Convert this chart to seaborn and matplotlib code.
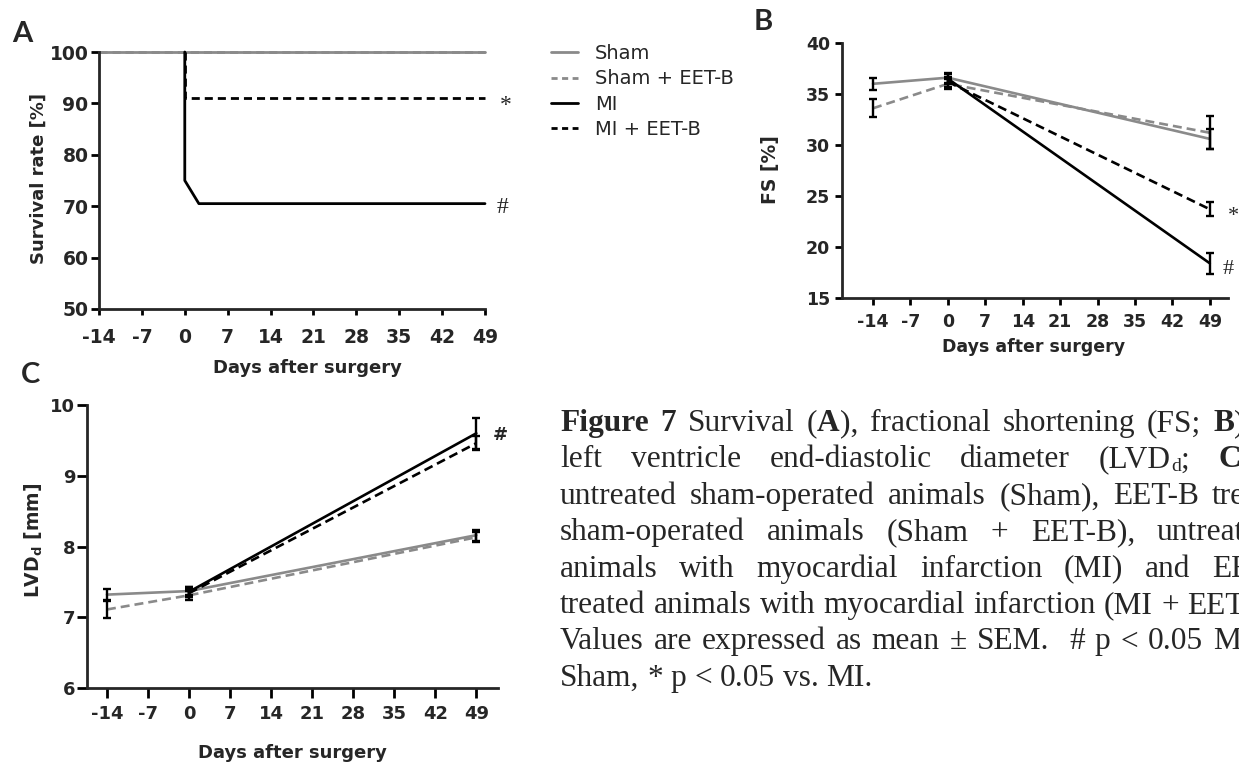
import numpy as np
import pandas as pd
import matplotlib
matplotlib.use("Agg")
import matplotlib.pyplot as plt
from matplotlib.lines import Line2D
import seaborn as sns

# ---------------- data ----------------
groups = ["Sham", "Sham + EET-B", "MI", "MI + EET-B"]
x_ticks = [-14, -7, 0, 7, 14, 21, 28, 35, 42, 49]

# Panel A: survival curves (path points)
surv_days_sham = [-14, 49]
surv_sham = [100, 100]
surv_days_sham_eet = [-14, 49]
surv_sham_eet = [100, 100]
surv_days_mi = [0, 0, 2.3, 49]
surv_mi = [100, 75, 70.5, 70.5]
surv_days_mi_eet = [0, 0, 49]
surv_mi_eet = [100, 91, 91]

# Panel B: fractional shortening (mean, SEM)
days_sham = [-14, 0, 49]
days_mi = [0, 49]
fs_sham = [36.0, 36.6, 30.6]
fs_sham_sem = [0.6, 0.5, 1.0]
fs_sham_eet = [33.6, 36.0, 31.2]
fs_sham_eet_sem = [0.9, 0.5, 1.6]
fs_mi = [36.5, 18.4]
fs_mi_sem = [0.5, 1.0]
fs_mi_eet = [36.2, 23.7]
fs_mi_eet_sem = [0.5, 0.7]

# Panel C: LVDd (mean, SEM)
lvd_sham = [7.32, 7.37, 8.16]
lvd_sham_sem = [0.08, 0.06, 0.08]
lvd_sham_eet = [7.11, 7.31, 8.13]
lvd_sham_eet_sem = [0.12, 0.06, 0.07]
lvd_mi = [7.36, 9.60]
lvd_mi_sem = [0.07, 0.22]
lvd_mi_eet = [7.34, 9.46]
lvd_mi_eet_sem = [0.06, 0.10]

# ---------------- style ----------------
sns.set_style("ticks")
plt.rcParams["font.family"] = ["DejaVu Sans"]
plt.rcParams["mathtext.default"] = "regular"
plt.rcParams["axes.unicode_minus"] = False

GRAY = "#8a8a8a"
palette = {"Sham": GRAY, "Sham + EET-B": GRAY, "MI": "black", "MI + EET-B": "black"}
dashesA = {"Sham": "", "Sham + EET-B": (2.9, 1.8), "MI": "", "MI + EET-B": (2.9, 1.8)}
dashesBC = {"Sham": "", "Sham + EET-B": (3.4, 1.9), "MI": "", "MI + EET-B": (3.4, 1.9)}

W, H = 1239, 767
fig = plt.figure(figsize=(W / 100, H / 100), dpi=100)


def px_axes(left, top, right, bottom):
    return fig.add_axes([left / W, 1 - bottom / H, (right - left) / W, (bottom - top) / H])


def long_df(pairs):
    rows = []
    for g, (xs, ys) in zip(groups, pairs):
        for i, (x, y) in enumerate(zip(xs, ys)):
            rows.append({"day": x, "value": y, "group": g, "order": i})
    return pd.DataFrame(rows)


def style_axes(ax, fs, xlen, xpad, ylen, ypad):
    sns.despine(ax=ax)
    for s in ("left", "bottom"):
        ax.spines[s].set_linewidth(2)
    ax.tick_params(axis="x", width=2, length=xlen, pad=xpad, labelsize=fs, color="black")
    ax.tick_params(axis="y", width=2, length=ylen, pad=ypad, labelsize=fs, color="black")
    for lab in ax.get_xticklabels() + ax.get_yticklabels():
        lab.set_fontweight("bold")


# ---------------- Panel A ----------------
axA = px_axes(99, 52, 485, 309)
dfA = long_df([(surv_days_sham, surv_sham), (surv_days_sham_eet, surv_sham_eet),
               (surv_days_mi, surv_mi), (surv_days_mi_eet, surv_mi_eet)])
sns.lineplot(data=dfA, x="day", y="value", hue="group", style="group",
             hue_order=groups, style_order=groups, palette=palette, dashes=dashesA,
             estimator=None, sort=False, linewidth=2, legend=False, ax=axA, clip_on=False)
axA.set_xlim(-14, 49)
axA.set_ylim(50, 100)
axA.set_xticks(x_ticks)
axA.set_yticks([50, 60, 70, 80, 90, 100])
axA.set_xlabel("Days after surgery", fontsize=13, fontweight="bold")
axA.set_ylabel("Survival rate [%]", fontsize=13, fontweight="bold")
style_axes(axA, 13.5, 4.5, 9, 6, 1.5)
axA.xaxis.set_label_coords(0.539, -0.23)
axA.xaxis.label.set_va("center")
axA.yaxis.set_label_coords(-0.155, 0.506)
axA.yaxis.label.set_va("center")
axA.annotate("*", xy=(49, surv_mi_eet[-1]), xytext=(10.8, -9.4), textcoords="offset points",
             fontsize=17, family="Liberation Serif", ha="left", va="baseline")
axA.annotate("#", xy=(49, surv_mi[-1]), xytext=(8.6, -6.8), textcoords="offset points",
             fontsize=17, family="Liberation Serif", ha="left", va="baseline")

# legend
handles = []
for g in groups:
    h = Line2D([], [], color=palette[g], lw=2)
    if "EET" in g:
        h.set_dashes((2.2, 1.6))
    handles.append(h)
fig.legend(handles, groups, loc="upper left", bbox_to_anchor=(551 / W, 1 - 44 / H),
           bbox_transform=fig.transFigure, frameon=False, fontsize=14,
           handlelength=1.4, handletextpad=0.85, labelspacing=0.33,
           borderpad=0, borderaxespad=0)


# ---------------- Panels B, C ----------------
def mean_panel(ax, series, sems):
    dfx = long_df(series)
    sns.lineplot(data=dfx, x="day", y="value", hue="group", style="group",
                 hue_order=groups, style_order=groups, palette=palette, dashes=dashesBC,
                 estimator=None, sort=False, linewidth=1.9, legend=False, ax=ax)
    for (xs, ys), e in zip(series, sems):
        ax.errorbar(xs, ys, yerr=e, fmt="none", ecolor="black", elinewidth=1.7,
                    capsize=3, capthick=1.7, zorder=5, clip_on=False)


axB = px_axes(842, 43, 1228, 298)
mean_panel(axB, [(days_sham, fs_sham), (days_sham, fs_sham_eet),
                 (days_mi, fs_mi), (days_mi, fs_mi_eet)],
           [fs_sham_sem, fs_sham_eet_sem, fs_mi_sem, fs_mi_eet_sem])
axB.set_xlim(-19.8, 52.4)
axB.set_ylim(15, 40)
axB.set_xticks(x_ticks)
axB.set_yticks([15, 20, 25, 30, 35, 40])
axB.set_xlabel("Days after surgery", fontsize=12.5, fontweight="bold")
axB.set_ylabel("FS [%]", fontsize=13.5, fontweight="bold")
style_axes(axB, 12.5, 5, 5.5, 5, 3.5)
axB.xaxis.set_label_coords(0.497, -0.192)
axB.xaxis.label.set_va("center")
axB.yaxis.set_label_coords(-0.184, 0.502)
axB.yaxis.label.set_va("center")
axB.annotate("*", xy=(49, fs_mi_eet[-1]), xytext=(13.2, -8.6), textcoords="offset points",
             fontsize=16, family="Liberation Serif", ha="left", va="baseline")
axB.annotate("#", xy=(49, fs_mi[-1]), xytext=(9.4, -7.6), textcoords="offset points",
             fontsize=16, family="Liberation Serif", ha="left", va="baseline")

axC = px_axes(87, 405, 498, 688)
mean_panel(axC, [(days_sham, lvd_sham), (days_sham, lvd_sham_eet),
                 (days_mi, lvd_mi), (days_mi, lvd_mi_eet)],
           [lvd_sham_sem, lvd_sham_eet_sem, lvd_mi_sem, lvd_mi_eet_sem])
axC.set_xlim(-17.4, 52.7)
axC.set_ylim(6, 10)
axC.set_xticks(x_ticks)
axC.set_yticks([6, 7, 8, 9, 10])
axC.set_xlabel("Days after surgery", fontsize=13, fontweight="bold")
axC.set_ylabel(r"LVD$_{d}$ [mm]", fontsize=13.5, fontweight="bold")
style_axes(axC, 13, 7, 5, 7, 1.5)
axC.xaxis.set_label_coords(0.499, -0.23)
axC.xaxis.label.set_va("center")
axC.yaxis.set_label_coords(-0.129, 0.523)
axC.yaxis.label.set_va("center")
axC.annotate("#", xy=(49, lvd_mi[-1]), xytext=(11.5, -5), textcoords="offset points",
             fontsize=13, fontweight="bold", ha="left", va="baseline")

# ---------------- panel letters ----------------
for letter, x, yb in (("A", 22, 42), ("B", 763, 30), ("C", 30, 383)):
    fig.text(x / W, 1 - yb / H, letter, fontsize=21, fontweight="bold",
             family=["Lato", "DejaVu Sans"], ha="center", va="baseline")

# ---------------- caption (justified lines, clipped at the right edge) ----------------
CAP = 22.6
renderer = fig.canvas.get_renderer()


def w_(*segs):
    return list(segs)


N = lambda s: (s, False, False)
Bd = lambda s: (s, True, False)
Sb = lambda s: (s, False, True)

caption_lines = [
    ([w_(Bd("Figure")), w_(Bd("7")), w_(N("Survival")), w_(N("("), Bd("A"), N("),")),
      w_(N("fractional")), w_(N("shortening")), w_(N("(FS;")), w_(Bd("B"), N(")"))], 7, 1213),
    ([w_(N("left")), w_(N("ventricle")), w_(N("end-diastolic")), w_(N("diameter")),
      w_(N("(LVD"), Sb("d"), N(";")), w_(Bd("C"), N(")"))], 5, 1218),
    ([w_(N("untreated")), w_(N("sham-operated")), w_(N("animals")), w_(N("(Sham),")),
      w_(N("EET-B")), w_(N("treated"))], 5, 1212),
    ([w_(N("sham-operated")), w_(N("animals")), w_(N("(Sham")), w_(N("+")),
      w_(N("EET-B),")), w_(N("untreated"))], 5, 1157),
    ([w_(N("animals")), w_(N("with")), w_(N("myocardial")), w_(N("infarction")),
      w_(N("(MI)")), w_(N("and")), w_(N("EET-B"))], 6, 1212),
    ([w_(N("treated")), w_(N("animals")), w_(N("with")), w_(N("myocardial")),
      w_(N("infarction")), w_(N("(MI")), w_(N("+")), w_(N("EET-B)."))], 7, 1187),
    ([w_(N("Values")), w_(N("are")), w_(N("expressed")), w_(N("as")), w_(N("mean")),
      w_(N("±")), w_(N("SEM.")), None, w_(N("#")), w_(N("p")), w_(N("<")), w_(N("0.05")),
      w_(N("MI"))], 12, 1213),
    ([w_(N("Sham,")), w_(N("*")), w_(N("p")), w_(N("<")), w_(N("0.05")), w_(N("vs.")),
      w_(N("MI."))], None, None),
]

x0 = 560
base0, step = 431, 36.4
space_px = 0.25 * CAP * 100 / 72

for li, (words, k, xk) in enumerate(caption_lines):
    yb = base0 + li * step
    built = []
    for wd in words:
        if wd is None:
            built.append(None)
            continue
        arts = []
        for txt, bold, sub in wd:
            t = fig.text(0, 0, txt, fontsize=CAP * (0.62 if sub else 1.0),
                         fontweight="bold" if bold else "normal",
                         family="Liberation Serif", ha="left", va="baseline")
            arts.append((t, sub, t.get_window_extent(renderer).width))
        built.append(arts)
    widths = [0 if b is None else sum(a[2] for a in b) for b in built]
    if k is None:
        gap = space_px
    else:
        gap = (xk - x0 - sum(widths[:k])) / k
    x = x0
    for b, wdt in zip(built, widths):
        if b is not None:
            cx = x
            for t, sub, tw in b:
                dy = -0.12 * CAP * 100 / 72 if sub else 0
                t.set_position((cx / W, 1 - (yb - dy) / H))
                cx += tw
        x += wdt + gap

fig.savefig("out.png", dpi=100)
